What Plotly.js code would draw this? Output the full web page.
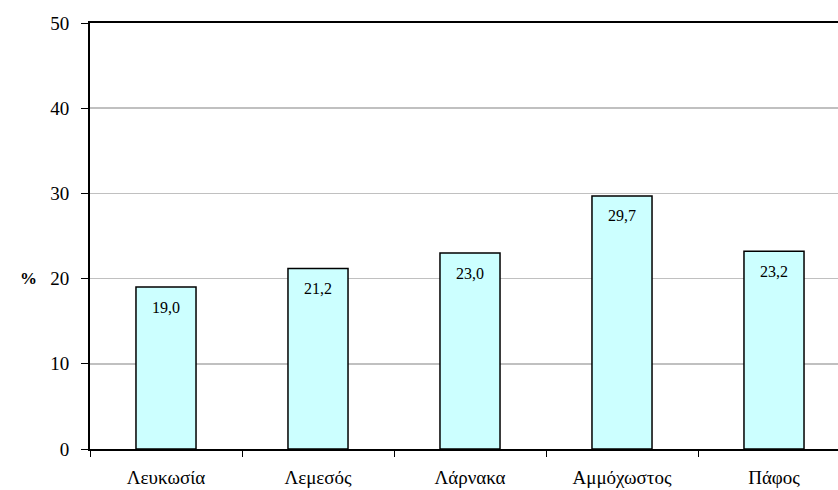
<!DOCTYPE html>
<html>
<head>
<meta charset="utf-8">
<script src="https://cdn.plot.ly/plotly-3.0.1.min.js"></script>
<style>
html,body{margin:0;padding:0;overflow:hidden;background:#fff;}
#chart{width:860px;height:490px;}
</style>
</head>
<body>
<div id="chart"></div>
<script>
const categories = ["Λευκωσία", "Λεμεσός", "Λάρνακα", "Αμμόχωστος", "Πάφος"];
const values = [19.0, 21.2, 23.0, 29.7, 23.2];
const yTicks = [0, 10, 20, 30, 40, 50];

const serif = "Liberation Serif";

const trace = {
  type: "bar",
  x: categories,
  y: values,
  width: 0.395,
  marker: {color: "#CCFFFF", line: {color: "#000000", width: 1.5}},
  hoverinfo: "none"
};

const annotations = categories.map((c, i) => ({
  x: c, y: values[i], xref: "x", yref: "y",
  text: values[i].toFixed(1).replace(".", ","),
  showarrow: false, yshift: -20,
  font: {family: serif, size: 16, color: "#000"}
}));
annotations.push({
  xref: "paper", yref: "paper", x: -0.0947, y: 0.40,
  text: "<b>%</b>", showarrow: false,
  font: {family: serif, size: 17, color: "#000"}
});

const layout = {
  width: 860, height: 490,
  margin: {l: 90, r: 10, t: 23, b: 41},
  paper_bgcolor: "#fff", plot_bgcolor: "#fff",
  font: {family: serif, color: "#000"},
  separators: ",.",
  showlegend: false,
  bargap: 0.605,
  xaxis: {
    type: "category",
    showline: true, linecolor: "#000", linewidth: 2, mirror: true,
    ticks: "outside", ticklen: 6, tickcolor: "#000", tickwidth: 1,
    tickson: "boundaries",
    ticklabelstandoff: 10,
    showgrid: false,
    tickfont: {family: serif, size: 19, color: "#000"}
  },
  yaxis: {
    range: [0, 50],
    tickvals: yTicks,
    showline: true, linecolor: "#000", linewidth: 2, mirror: true,
    ticks: "outside", ticklen: 7, tickcolor: "#000", tickwidth: 1,
    ticklabelstandoff: 8,
    showgrid: true, gridcolor: "#C0C0C0", gridwidth: 1.5,
    zeroline: false,
    tickfont: {family: serif, size: 19, color: "#000"}
  },
  annotations: annotations
};

Plotly.newPlot("chart", [trace], layout, {displayModeBar: false, staticPlot: true});
</script>
</body>
</html>
